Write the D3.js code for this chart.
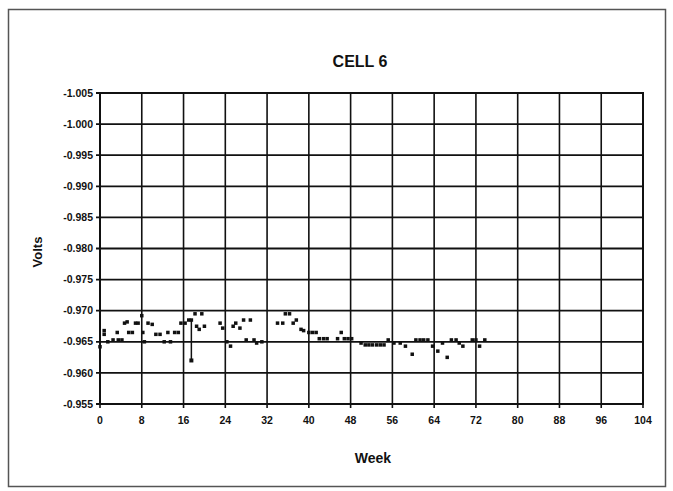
<!DOCTYPE html>
<html><head><meta charset="utf-8">
<script src="https://cdn.jsdelivr.net/npm/d3@7"></script>
<style>html,body{margin:0;padding:0;background:#fff;}svg{display:block;}</style>
</head><body>
<svg id="c" width="673" height="491"></svg>
<script>
const title = "CELL 6";
const xLabel = "Week";
const yLabel = "Volts";
const xTicks = [0,8,16,24,32,40,48,56,64,72,80,88,96,104];
const yTicks = [-1.005,-1.000,-0.995,-0.990,-0.985,-0.980,-0.975,-0.970,-0.965,-0.960,-0.955];
const weeks = [0,0.8,0.8,1.5,2.5,3.3,3.5,4.2,4.7,5.2,5.5,6.2,6.8,7.3,8,8.2,8.5,9.2,10,10.7,11.5,12.3,13,13.5,14.3,15,15.5,16.3,17,17.5,18.2,18.5,19,19.5,20,23,23.5,24.3,25,25.5,26,26.8,27.5,28,28.8,29.5,30,31,
34,35,35.5,36.3,37,37.6,38.5,39,40,40.7,41.4,42,42.8,43.5,45.5,46.2,46.8,47.5,48.2,50,50.8,51.5,52.2,53,53.7,54.4,55.2,56.3,57.5,58.5,59.8,60.5,61.3,62,62.8,63.7,64.7,65.6,66.5,67.3,68.2,68.8,69.5,71.3,72,72.7,73.7];
const volts = [-0.9642,-0.9668,-0.9662,-0.965,-0.9653,-0.9665,-0.9653,-0.9653,-0.968,-0.9682,-0.9665,-0.9665,-0.968,-0.968,-0.9692,-0.9665,-0.965,-0.968,-0.9678,-0.9662,-0.9662,-0.965,-0.9665,-0.965,-0.9665,-0.9665,-0.968,-0.968,-0.9685,-0.9685,-0.9695,-0.9675,-0.967,-0.9695,-0.9675,-0.968,-0.9672,-0.965,-0.9643,-0.9675,-0.968,-0.9672,-0.9685,-0.9653,-0.9685,-0.9653,-0.9648,-0.965,
-0.968,-0.968,-0.9695,-0.9695,-0.968,-0.9685,-0.967,-0.9668,-0.9665,-0.9665,-0.9665,-0.9655,-0.9655,-0.9655,-0.9655,-0.9665,-0.9655,-0.9655,-0.9655,-0.9648,-0.9645,-0.9645,-0.9645,-0.9645,-0.9645,-0.9645,-0.9653,-0.9648,-0.9648,-0.9643,-0.963,-0.9653,-0.9653,-0.9653,-0.9653,-0.9643,-0.9635,-0.9648,-0.9625,-0.9653,-0.9653,-0.9648,-0.9643,-0.9653,-0.9653,-0.9643,-0.9653];
const spikeWeek = [17.5,17.5];
const spikeVolts = [-0.9685,-0.962];

const svg = d3.select("#c");
const L=100,R=643,T=93,B=404;
const x = d3.scaleLinear().domain([0,104]).range([L,R]);
const y = d3.scaleLinear().domain([-1.005,-0.955]).range([T,B]);
const font = "Liberation Sans, Arial, sans-serif";

// outer frame
svg.append("rect").attr("x",8.5).attr("y",9.5).attr("width",657).attr("height",477)
  .attr("fill","#fff").attr("stroke","#555").attr("stroke-width",1.5);

// grid
const g = svg.append("g");
g.selectAll("line.h").data(yTicks).join("line")
  .attr("x1",L-4).attr("x2",R).attr("y1",d=>y(d)).attr("y2",d=>y(d))
  .attr("stroke","#111").attr("stroke-width",1.8);
g.selectAll("line.v").data(xTicks).join("line")
  .attr("y1",T).attr("y2",B+4).attr("x1",d=>x(d)).attr("x2",d=>x(d))
  .attr("stroke","#111").attr("stroke-width",1.6);
svg.append("rect").attr("x",L).attr("y",T).attr("width",R-L).attr("height",B-T)
  .attr("fill","none").attr("stroke","#111").attr("stroke-width",2);

// tick labels
const fmt = d => d3.format(".3f")(d).replace("\u2212","-");
svg.append("g").selectAll("text").data(yTicks).join("text")
  .attr("x",L-7).attr("y",d=>y(d)).attr("dy","0.35em").attr("text-anchor","end")
  .attr("font-family",font).attr("font-weight","bold").attr("font-size",10.5)
  .attr("fill","#111").text(d=>fmt(d));
svg.append("g").selectAll("text").data(xTicks).join("text")
  .attr("x",d=>x(d)).attr("y",B+20).attr("text-anchor","middle")
  .attr("font-family",font).attr("font-weight","bold").attr("font-size",10.5)
  .attr("fill","#111").text(d=>d);

// titles
svg.append("text").attr("x",360).attr("y",67).attr("text-anchor","middle")
  .attr("font-family",font).attr("font-weight","bold").attr("font-size",16)
  .attr("fill","#111").text(title);
svg.append("text").attr("x",373).attr("y",463).attr("text-anchor","middle")
  .attr("font-family",font).attr("font-weight","bold").attr("font-size",14)
  .attr("fill","#111").text(xLabel);
svg.append("text").attr("transform","translate(42,252) rotate(-90)").attr("text-anchor","middle")
  .attr("font-family",font).attr("font-weight","bold").attr("font-size",13)
  .attr("fill","#111").text(yLabel);

// spike
svg.append("line").attr("x1",x(spikeWeek[0])).attr("x2",x(spikeWeek[1]))
  .attr("y1",y(spikeVolts[0])).attr("y2",y(spikeVolts[1])).attr("stroke","#111").attr("stroke-width",1.5);
svg.append("rect").attr("x",x(spikeWeek[1])-2).attr("y",y(spikeVolts[1])-2).attr("width",4).attr("height",4).attr("fill","#111");

// points
svg.append("g").selectAll("rect").data(weeks.map((w,i)=>[w,volts[i]])).join("rect")
  .attr("x",d=>x(d[0])-1.75).attr("y",d=>y(d[1])-1.75).attr("width",3.5).attr("height",3.5).attr("fill","#111");
</script>
</body></html>
